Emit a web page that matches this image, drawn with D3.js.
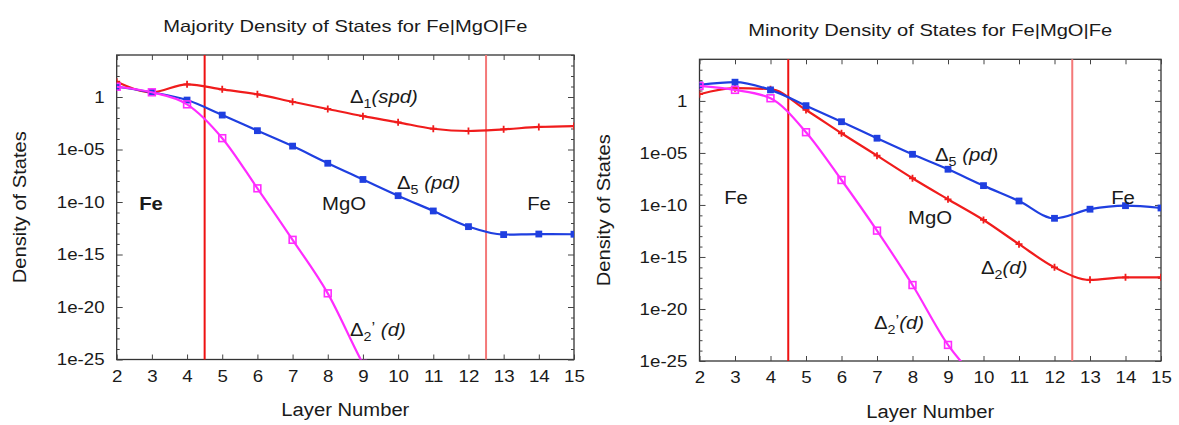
<!DOCTYPE html>
<html><head><meta charset="utf-8">
<script src="https://cdn.jsdelivr.net/npm/d3@7"></script>
<style>html,body{margin:0;padding:0;background:#fff;}svg{display:block;}</style>
</head><body>
<svg id="chart" width="1179" height="425"></svg>
<script>
// ---------- data ----------
const layers = [2,3,4,5,6,7,8,9,10,11,12,13,14,15];
const xTicks = [2,3,4,5,6,7,8,9,10,11,12,13,14,15];
const yTicks = [1e-25,1e-20,1e-15,1e-10,1e-5,1];
const yTickLabels = ["1e-25","1e-20","1e-15","1e-10","1e-05","1"];
const interfaces = [4.5, 12.5];

// Majority
const majDelta1 = [29, 2.8, 16, 5.4, 1.8, 0.35, 0.072, 0.015, 3.9e-3, 9.5e-4, 5.8e-4, 8.3e-4, 1.4e-3, 1.7e-3];
const majDelta5 = [9.5, 2.8, 0.51, 1.9e-2, 6.2e-4, 2.1e-5, 4.9e-7, 1.4e-8, 4.0e-10, 1.4e-11, 4.5e-13, 7.9e-14, 8.9e-14, 8.5e-14];
const majDelta2p = [9.5, 2.8, 0.2, 1.2e-4, 2.0e-9, 2.5e-14, 2.0e-19, 4e-26, 1e-31];

// Minority
const minDelta5 = [35, 63, 11.5, 0.35, 1.0e-2, 2.6e-4, 7.4e-6, 2.7e-7, 7.2e-9, 2.4e-10, 5.2e-12, 3.9e-11, 8.5e-11, 5.1e-11];
const minDelta2 = [4.4, 16.6, 13.5, 0.135, 7.8e-4, 5.5e-6, 3.7e-8, 3.5e-10, 3.6e-12, 1.7e-14, 1.0e-16, 6.3e-18, 1.1e-17, 1.1e-17];
const minDelta2p = [27.5, 11.5, 1.8, 9.8e-4, 2.5e-8, 3.4e-13, 2.0e-18, 3.5e-24, 4e-28];

const RED = "#f01c1c", BLUE = "#1f3fe0", MAG = "#ff2cff";
const FONT = "'Liberation Sans', Arial, Helvetica, sans-serif";
const SX = 1.1; // horizontal stretch of text in the reference

const svg = d3.select("#chart");

function panel(cfg) {
  const x = d3.scaleLinear().domain([2,15]).range([cfg.x0, cfg.x1]);
  const y = d3.scaleLog().domain([1e-25, 1e4]).range([cfg.y1, cfg.y0]);
  const g = svg.append("g");
  const clipId = "clip" + cfg.id;
  svg.append("clipPath").attr("id", clipId).append("rect")
    .attr("x", cfg.x0).attr("y", cfg.y0).attr("width", cfg.x1 - cfg.x0).attr("height", cfg.y1 - cfg.y0);

  // frame
  g.append("rect").attr("x", cfg.x0).attr("y", cfg.y0)
    .attr("width", cfg.x1 - cfg.x0).attr("height", cfg.y1 - cfg.y0)
    .attr("fill", "none").attr("stroke", "#333").attr("stroke-width", 1.3);

  // axes
  const axB = g.append("g").attr("transform", `translate(0,${cfg.y1})`)
    .call(d3.axisBottom(x).tickValues(xTicks).tickSize(-5).tickPadding(14).tickFormat(d3.format("d")));
  const axT = g.append("g").attr("transform", `translate(0,${cfg.y0})`)
    .call(d3.axisTop(x).tickValues(xTicks).tickSize(-5).tickFormat(""));
  const axL = g.append("g").attr("transform", `translate(${cfg.x0},0)`)
    .call(d3.axisLeft(y).tickValues(yTicks).tickSize(-6).tickPadding(11).tickFormat((d,i) => yTickLabels[i]));
  const axR = g.append("g").attr("transform", `translate(${cfg.x1},0)`)
    .call(d3.axisRight(y).tickValues(yTicks).tickSize(-6).tickFormat(""));
  const minor = d3.range(-25, 5).filter(e => e % 5 !== 0).map(e => Math.pow(10, e));
  const axLm = g.append("g").attr("transform", `translate(${cfg.x0},0)`)
    .call(d3.axisLeft(y).tickValues(minor).tickSize(-3).tickFormat(""));
  const axRm = g.append("g").attr("transform", `translate(${cfg.x1},0)`)
    .call(d3.axisRight(y).tickValues(minor).tickSize(-3).tickFormat(""));
  [axB, axT, axL, axR, axLm, axRm].forEach(a => {
    a.select(".domain").remove();
    a.selectAll("line").attr("stroke", "#444").attr("stroke-width", 1);
    a.selectAll("text").attr("font-family", FONT).attr("font-size", 17).attr("fill", "#1a1a1a")
      .attr("transform", `scale(${SX},1)`);
  });
  axB.selectAll("text").attr("dy", "0.5em");

  // interface lines
  g.selectAll("line.iface").data(interfaces).enter().append("line")
    .attr("x1", d => x(d)).attr("x2", d => x(d)).attr("y1", cfg.y0).attr("y2", cfg.y1)
    .attr("stroke", (d,i) => i === 0 ? "#ee1111" : "#f47878").attr("stroke-width", 2);

  // series
  const plot = g.append("g").attr("clip-path", `url(#${clipId})`);
  const line = d3.line().x(d => x(d.x)).y(d => y(d.v)).curve(d3.curveMonotoneX);
  cfg.series.forEach(s => {
    const pts = s.values.map((v,i) => ({x: layers[i], v}));
    plot.append("path").datum(pts).attr("d", line)
      .attr("fill", "none").attr("stroke", s.color).attr("stroke-width", 2.2);
    const m = plot.append("g");
    pts.forEach(p => {
      const px = x(p.x), py = y(p.v);
      if (s.marker === "plus") {
        m.append("path").attr("d", `M${px-3.5},${py}H${px+3.5}M${px},${py-3.5}V${py+3.5}`)
          .attr("stroke", s.color).attr("stroke-width", 1.8);
      } else if (s.marker === "fsq") {
        m.append("rect").attr("x", px-3.4).attr("y", py-3.4).attr("width", 6.8).attr("height", 6.8)
          .attr("fill", s.color);
      } else {
        m.append("rect").attr("x", px-3.4).attr("y", py-3.4).attr("width", 6.8).attr("height", 6.8)
          .attr("fill", "none").attr("stroke", s.color).attr("stroke-width", 1.6);
      }
    });
  });

  // titles & axis labels
  const cx = (cfg.x0 + cfg.x1) / 2;
  g.append("text").attr("x", cx).attr("y", cfg.titleY).attr("text-anchor", "middle")
    .attr("font-family", FONT).attr("font-size", 16.5).attr("fill", "#1a1a1a")
    .attr("textLength", 364).attr("lengthAdjust", "spacingAndGlyphs").text(cfg.title);
  g.append("text").attr("x", cx).attr("y", cfg.xLabelY).attr("text-anchor", "middle")
    .attr("font-family", FONT).attr("font-size", 18).attr("fill", "#1a1a1a")
    .attr("textLength", 128).attr("lengthAdjust", "spacingAndGlyphs").text("Layer Number");
  g.append("text").attr("transform", `translate(${cfg.yLabelX},${(cfg.y0+cfg.y1)/2}) rotate(-90)`)
    .attr("text-anchor", "middle").attr("font-family", FONT).attr("font-size", 18).attr("fill", "#1a1a1a")
    .attr("textLength", 152).attr("lengthAdjust", "spacingAndGlyphs").text("Density of States");

  // annotations
  cfg.notes.forEach(n => {
    const t = g.append("text").attr("transform", `translate(${n.x},${n.y}) scale(${SX},1)`)
      .attr("text-anchor", n.anchor || "start").attr("font-family", FONT)
      .attr("font-size", 18.5).attr("fill", "#1a1a1a").attr("font-weight", n.bold ? "bold" : "normal");
    if (n.sub) {
      t.append("tspan").text("Δ");
      t.append("tspan").attr("font-size", 13).attr("dy", 5).text(n.sub);
      if (n.prime) t.append("tspan").attr("font-size", 15).attr("dy", -9).text("’");
      t.append("tspan").attr("dy", n.prime ? 4 : -5).attr("font-style", "italic").text(n.rest);
    } else {
      t.text(n.text);
    }
  });
}

panel({
  id: "L", x0: 116.7, x1: 574, y0: 55, y1: 359.5, titleY: 32, xLabelY: 416, yLabelX: 26,
  title: "Majority Density of States for Fe|MgO|Fe",
  series: [
    {values: majDelta1, color: RED, marker: "plus"},
    {values: majDelta5, color: BLUE, marker: "fsq"},
    {values: majDelta2p, color: MAG, marker: "osq"}
  ],
  notes: [
    {text: "Fe", x: 151, y: 210, anchor: "middle", bold: true},
    {text: "MgO", x: 344, y: 210, anchor: "middle"},
    {text: "Fe", x: 539, y: 210, anchor: "middle"},
    {sub: "1", rest: "(spd)", x: 350, y: 103},
    {sub: "5", rest: " (pd)", x: 397, y: 189},
    {sub: "2", rest: " (d)", prime: true, x: 350, y: 336}
  ]
});

panel({
  id: "R", x0: 699.5, x1: 1161, y0: 59.3, y1: 361, titleY: 36, xLabelY: 418, yLabelX: 610,
  title: "Minority Density of States for Fe|MgO|Fe",
  series: [
    {values: minDelta2, color: RED, marker: "plus"},
    {values: minDelta5, color: BLUE, marker: "fsq"},
    {values: minDelta2p, color: MAG, marker: "osq"}
  ],
  notes: [
    {text: "Fe", x: 736, y: 204, anchor: "middle"},
    {text: "MgO", x: 930, y: 224, anchor: "middle"},
    {text: "Fe", x: 1123, y: 204, anchor: "middle"},
    {sub: "5", rest: " (pd)", x: 935, y: 161},
    {sub: "2", rest: "(d)", x: 981, y: 274},
    {sub: "2", rest: "(d)", prime: true, x: 874, y: 329}
  ]
});
</script>
</body></html>
